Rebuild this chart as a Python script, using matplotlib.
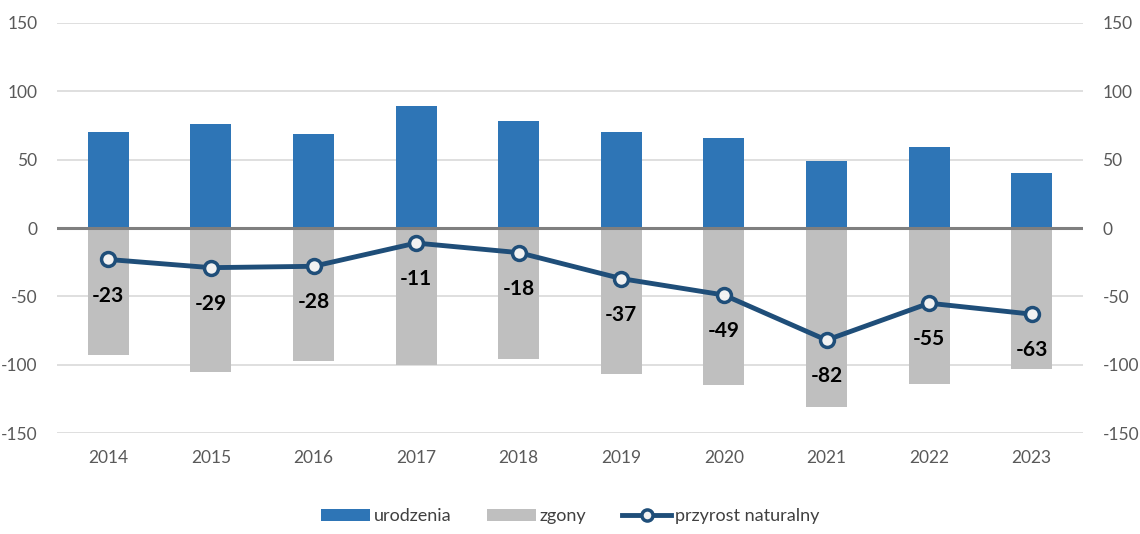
import matplotlib
matplotlib.use('Agg')
import matplotlib.pyplot as plt
import numpy as np

# ── data ──────────────────────────────────────────────────────────────
years = ['2014', '2015', '2016', '2017', '2018', '2019', '2020', '2021', '2022', '2023']
births = [70, 76, 69, 89, 78, 70, 66, 49, 59, 40]
deaths = [-93, -105, -97, -100, -96, -107, -115, -131, -114, -103]
natural = [-23, -29, -28, -11, -18, -37, -49, -82, -55, -63]

BLUE = '#2E75B6'
GRAY = '#BFBFBF'
NAVY = '#1F4E79'
TICK = '#595959'

plt.rcParams['font.family'] = ['Lato', 'DejaVu Sans']
plt.rcParams['axes.unicode_minus'] = False

fig = plt.figure(figsize=(11.4, 5.34), dpi=100)
ax = fig.add_axes([0.05, 0.189, 0.9, 0.768])
x = np.arange(len(years))

b1 = ax.bar(x, births, width=0.4, color=BLUE, label='urodzenia', zorder=2)
b2 = ax.bar(x, deaths, width=0.4, color=GRAY, label='zgony', zorder=2)
ax.axhline(0, color='#7F7F7F', lw=2.2, zorder=3)
ln, = ax.plot(x, natural, color=NAVY, lw=3.5, marker='o', markersize=10,
              markerfacecolor='#F2F2F2', markeredgecolor=NAVY, markeredgewidth=2.5,
              label='przyrost naturalny', zorder=4)

for xi, v in zip(x, natural):
    ax.annotate(str(v), (xi, v), xytext=(0, -26), textcoords='offset points',
                ha='center', va='center', fontsize=15, fontweight='bold',
                color='black', zorder=5)

ax.set_xlim(-0.5, len(years) - 0.5)
ax.set_ylim(-150, 150)
ax.set_yticks(range(-150, 151, 50))
ax.set_xticks(x)
ax.set_xticklabels(years)
ax.yaxis.grid(True, color='#D9D9D9', lw=1.2, zorder=0)
ax.set_axisbelow(True)
for s in ax.spines.values():
    s.set_visible(False)
ax.tick_params(length=0, labelsize=12.5, colors=TICK, pad=14)
ax.tick_params(axis='x', pad=12)

ax2 = ax.twinx()
ax2.set_ylim(-150, 150)
ax2.set_yticks(range(-150, 151, 50))
for s in ax2.spines.values():
    s.set_visible(False)
ax2.tick_params(length=0, labelsize=12.5, colors=TICK, pad=14)

fig.legend([b1, b2, ln], ['urodzenia', 'zgony', 'przyrost naturalny'],
           loc='lower center', bbox_to_anchor=(0.5, -0.012), ncol=3, frameon=False,
           fontsize=13, labelcolor='#404040', handlelength=2.7, handleheight=0.6,
           handletextpad=0.2, columnspacing=2.0, markerscale=0.8)

fig.savefig('out.png', dpi=100)
